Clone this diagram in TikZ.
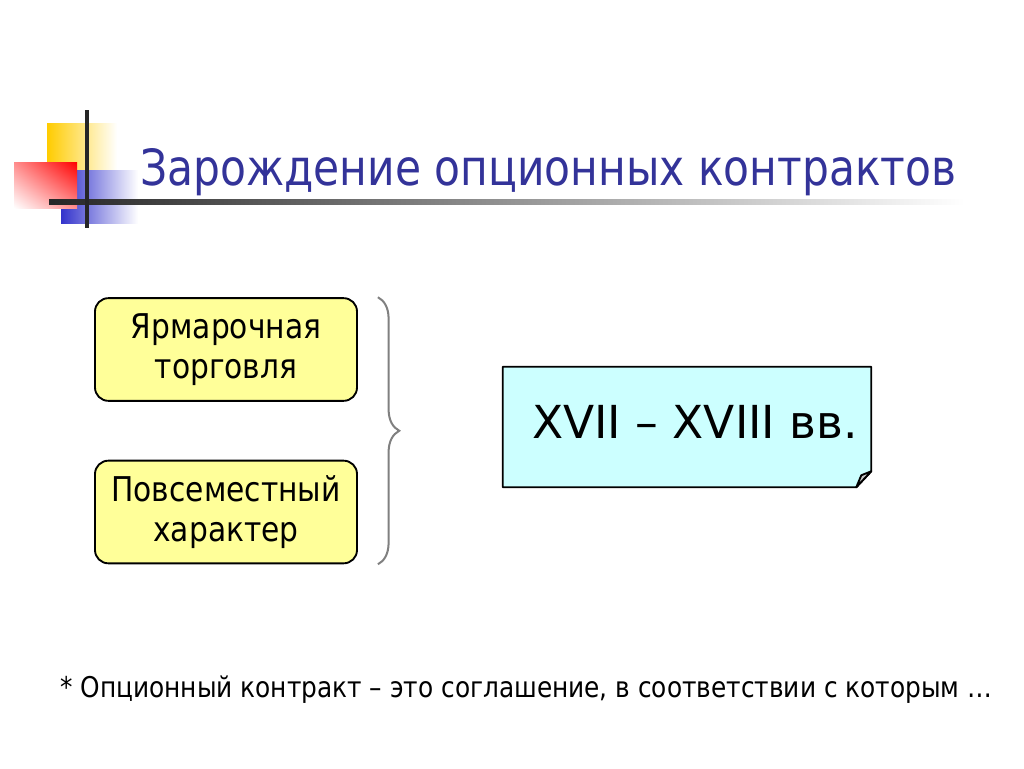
\documentclass[tikz,border=0pt]{standalone}
\usepackage{fontspec}
\setmainfont{DejaVu Sans}[FakeStretch=0.87]
\newfontfamily\eraface{DejaVu Sans}
\newfontfamily\titleface{DejaVu Sans}[FakeStretch=0.85]
\usetikzlibrary{calc,positioning,decorations.pathreplacing,shadings}

\definecolor{titleblue}{HTML}{333399}
\definecolor{boxyellow}{HTML}{FFFF99}
\definecolor{boxcyan}{HTML}{CCFFFF}
\definecolor{logoyellow}{HTML}{FFCC00}
\definecolor{logoblue}{HTML}{3333CC}
\definecolor{logored}{HTML}{FF0000}

\begin{document}
\begin{tikzpicture}[x=0.75pt,y=-0.75pt,
    fairbox/.style={rectangle,rounded corners=10pt,draw=black,line width=1.4pt,fill=boxyellow,
      minimum width=196.5pt,minimum height=77pt,align=center,
      font=\fontsize{25.6}{30}\selectfont},
    brace/.style={decorate,decoration={brace,amplitude=16pt},draw=gray,line width=1.5pt},
  ]

  \useasboundingbox (0,0) rectangle (1024,768);

  %% logo in the corner
  \shade[left color=logoyellow,middle color=logoyellow,right color=white] (47,123) rectangle (117,185);
  \shade[left color=logoblue,middle color=logoblue,right color=white] (61,170) rectangle (138,223);
  \shade[upper right=logored,lower left=white,upper left=logored!45!white,lower right=logored!45!white] (14,162) rectangle (77,208);
  \shade[left color=black!85,right color=white] (49,199.5) rectangle (965,204);
  \draw[line width=2.4pt,black!85] (87,110) -- (87,228);

  \node (title) [anchor=base west,inner sep=0pt,text=titleblue,font=\titleface\fontsize{37.4}{46}\selectfont] at(140,185) {Зарождение опционных контрактов};

  \node (trade) [fairbox] at(226,349.5) {Ярмарочная\\торговля};
  \node (spread) [fairbox] at(226,512) {Повсеместный\\характер};

  \draw[brace] ($(trade.north east)+(20,0)$) -- ($(spread.south east)+(20,0)$);

  \node (era) [rectangle,draw=none,inner sep=0pt,minimum width=276pt,minimum height=90pt] at(687,427) {};
  \draw[line width=1.4pt,fill=boxcyan,line join=round] (era.north west) -- (era.north east) -- ($(era.south east)+(0,-16)$)
    -- ($(era.south east)+(-15,0)$) -- (era.south west) -- cycle;
  \draw[line width=1.4pt,fill=gray!45,line join=round] ($(era.south east)+(-15,0)$) -- ($(era.south east)+(-10,-12)$)
    -- ($(era.south east)+(0,-16)$) -- cycle;
  \node (eratext) [anchor=base,inner sep=0pt,font=\eraface\fontsize{34.1}{40}\selectfont] at(695,438) {XVII – XVIII вв.};

  \node (note) [anchor=base west,inner sep=0pt,font=\fontsize{21.4}{26}\selectfont] at(60,697) {* Опционный контракт – это соглашение, в соответствии с которым …};

\end{tikzpicture}
\end{document}
